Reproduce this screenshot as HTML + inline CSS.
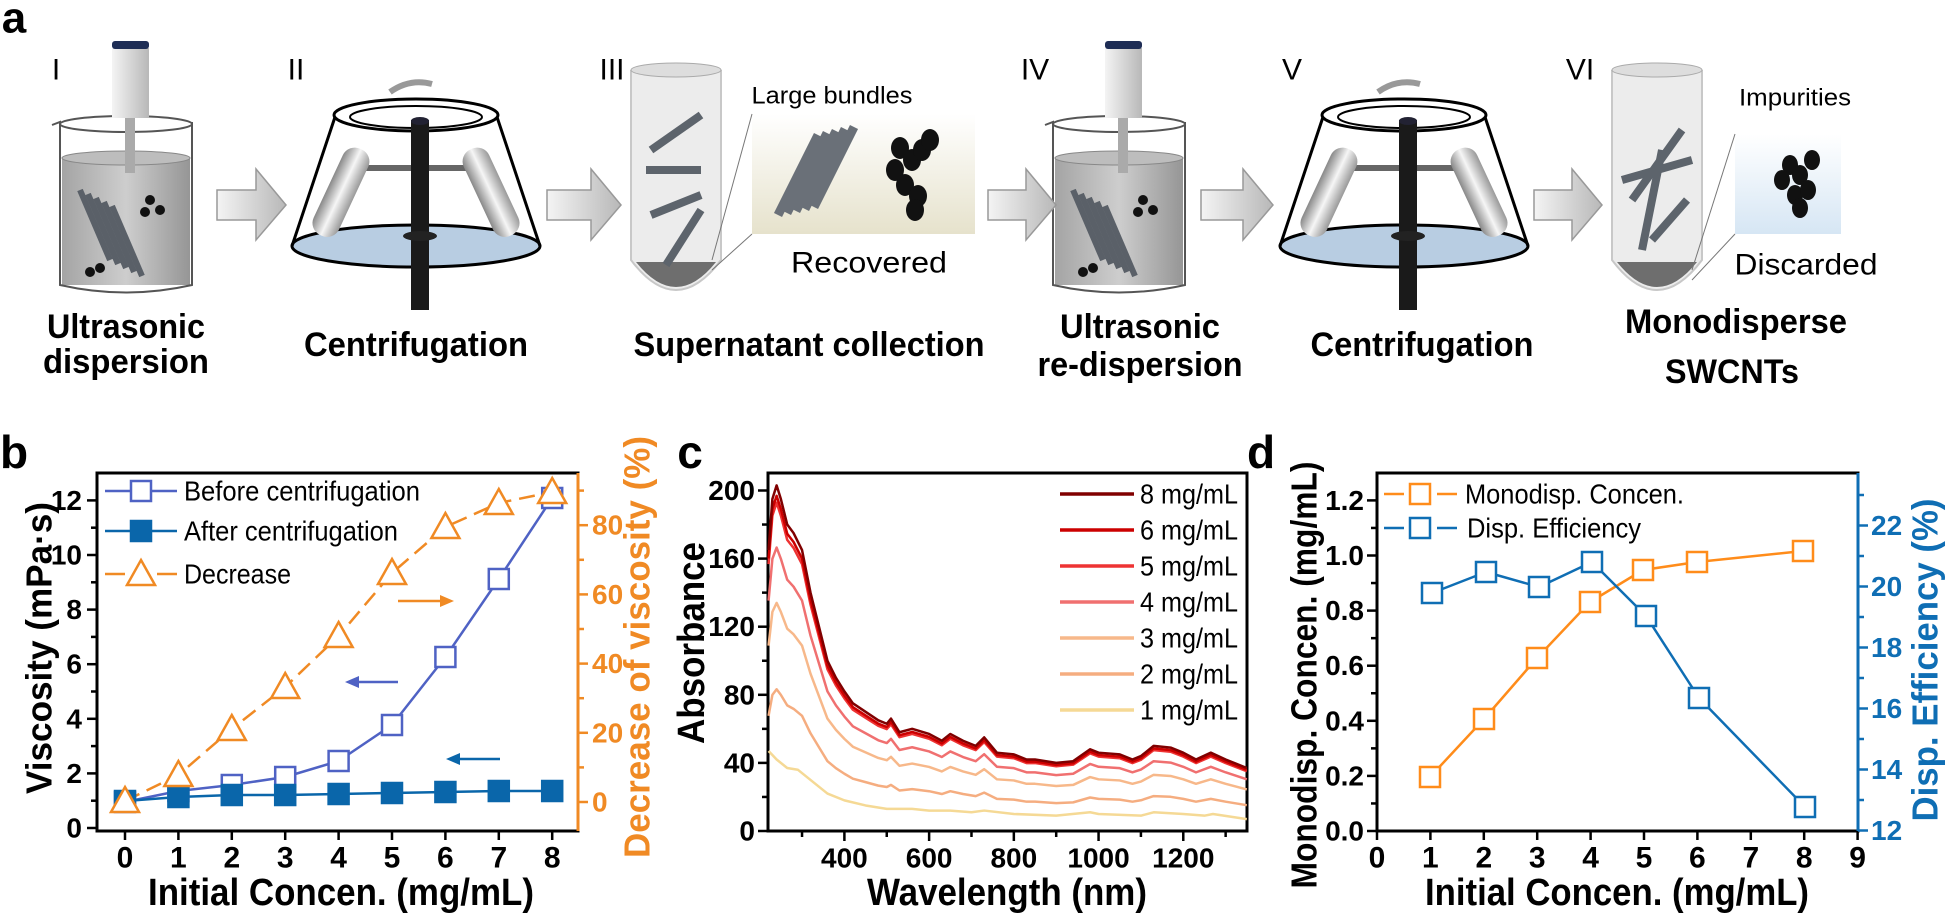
<!DOCTYPE html>
<html><head><meta charset="utf-8"><style>
html,body{margin:0;padding:0;background:#fff;}
svg{display:block;}
text{font-family:"Liberation Sans Narrow","Liberation Sans",sans-serif;}
</style></head><body>
<svg id="s" width="1947" height="916" viewBox="0 0 1947 916" xmlns="http://www.w3.org/2000/svg">
<defs>
<linearGradient id="gl" x1="0" x2="1"><stop offset="0" stop-color="#e8e8e8"/><stop offset="0.5" stop-color="#ffffff"/><stop offset="1" stop-color="#d0d0d0"/></linearGradient>
<linearGradient id="gb" x1="0" x2="1"><stop offset="0" stop-color="#9a9a9a"/><stop offset="0.5" stop-color="#c8c8c8"/><stop offset="1" stop-color="#8a8a8a"/></linearGradient>
<linearGradient id="ga" x1="0" x2="1"><stop offset="0" stop-color="#f4f4f4"/><stop offset="1" stop-color="#b8b8b8"/></linearGradient>
<linearGradient id="gy" x1="0" y1="0" x2="0" y2="1"><stop offset="0" stop-color="#ffffff"/><stop offset="1" stop-color="#e6e2cc"/></linearGradient>
<linearGradient id="gz" x1="0" y1="0" x2="0" y2="1"><stop offset="0" stop-color="#ffffff"/><stop offset="1" stop-color="#d6e6f4"/></linearGradient>
<linearGradient id="gt" x1="0" x2="1"><stop offset="0" stop-color="#888"/><stop offset="0.5" stop-color="#f6f6f6"/><stop offset="1" stop-color="#999"/></linearGradient>
</defs>
<g id="top"></g>
<g id="charts"></g>
</svg>
<script>
const NS="http://www.w3.org/2000/svg";
function el(p,tag,a,txt){const e=document.createElementNS(NS,tag);for(const k in a)e.setAttribute(k,a[k]);if(txt!==undefined)e.textContent=txt;p.appendChild(e);return e;}
const T=document.getElementById('top'),C=document.getElementById('charts');
function tx(p,x,y,s,str,o){o=o||{};const a={x:x,y:y,'font-size':s,'text-anchor':o.anchor||'middle','dominant-baseline':'central',fill:o.fill||'#000'};
 if(o.bold)a['font-weight']='bold'; if(o.len){a.textLength=o.len;a.lengthAdjust='spacingAndGlyphs';}
 if(o.rot){a.transform='rotate(-90 '+x+' '+y+')';}
 if(o.family)a['font-family']=o.family;
 return el(p,'text',a,str);}
tx(T,14,18,44,'a',{bold:true,family:'"Liberation Sans",sans-serif'});
[['I',56],['II',296],['III',612],['IV',1035],['V',1292],['VI',1580]].forEach(r=>tx(T,r[1],70,30,r[0],{}));
function beaker(ox){
 el(T,'rect',{x:ox+62,y:158,width:128,height:127,fill:'url(#gb)',opacity:0.9});
 el(T,'path',{d:`M${ox+52} 125 L${ox+60} 122 L${ox+60} 285 Q${ox+126} 300 ${ox+192} 285 L${ox+192} 122`,fill:'none',stroke:'#555','stroke-width':2});
 el(T,'ellipse',{cx:ox+126,cy:124,rx:66,ry:8,fill:'none',stroke:'#555','stroke-width':2});
 el(T,'ellipse',{cx:ox+126,cy:158,rx:64,ry:7,fill:'#bdbdbd',stroke:'#888'});
 el(T,'rect',{x:ox+112,y:48,width:37,height:70,fill:'url(#ga)'});
 el(T,'rect',{x:ox+112,y:41,width:37,height:8,fill:'#1e2d55',rx:3});
 el(T,'rect',{x:ox+125,y:118,width:10,height:55,fill:'#aaa'});
 for(let i=0;i<5;i++)el(T,'line',{x1:ox+80+i*8,y1:190+i*4,x2:ox+110+i*8,y2:260+i*4,stroke:'#5a6068','stroke-width':6});
 [[150,200],[160,210],[145,212],[90,272],[100,268]].forEach(p=>el(T,'circle',{cx:ox+p[0],cy:p[1],r:5,fill:'#111'}));
}
beaker(0);beaker(993);
function arrow(x1,x2){el(T,'path',{d:`M${x1} 190 L${x2-30} 190 L${x2-30} 169 L${x2} 205 L${x2-30} 240 L${x2-30} 220 L${x1} 220 Z`,fill:'url(#ga)',stroke:'#999','stroke-width':1.5});}
arrow(217,286);arrow(547,621);arrow(988,1056);arrow(1201,1273);arrow(1534,1602);
function centri(ox){
 el(T,'ellipse',{cx:ox+416,cy:246,rx:124,ry:21,fill:'#b8cde2',stroke:'#000','stroke-width':3});
 el(T,'path',{d:`M${ox+292} 246 L${ox+335} 117 M${ox+540} 246 L${ox+497} 117`,stroke:'#000','stroke-width':3,fill:'none'});
 el(T,'ellipse',{cx:ox+416,cy:115,rx:82,ry:16,fill:'none',stroke:'#000','stroke-width':3});
 el(T,'ellipse',{cx:ox+416,cy:117,rx:66,ry:11,fill:'none',stroke:'#000','stroke-width':2});
 el(T,'path',{d:`M${ox+390} 92 Q${ox+410} 78 ${ox+432} 84`,stroke:'#999','stroke-width':6,fill:'none'});
 el(T,'line',{x1:ox+355,y1:168,x2:ox+480,y2:168,stroke:'#666','stroke-width':6});
 el(T,'rect',{x:ox+328,y:145,width:28,height:95,rx:13,fill:'url(#gt)',transform:`rotate(25 ${ox+342} 190)`});
 el(T,'rect',{x:ox+476,y:145,width:28,height:95,rx:13,fill:'url(#gt)',transform:`rotate(-25 ${ox+490} 190)`});
 el(T,'rect',{x:ox+411,y:120,width:18,height:190,fill:'#1a1a1a'});
 el(T,'ellipse',{cx:ox+420,cy:121,rx:9,ry:4,fill:'#223'});
 el(T,'ellipse',{cx:ox+420,cy:236,rx:17,ry:5,fill:'#222'});
}
centri(0);centri(988);
function tube(ox,ext){
 el(T,'path',{d:`M${ox} 70 L${ox} 260 Q${ox+45} 320 ${ox+90} 260 L${ox+90} 70`,fill:'#ececec',stroke:'#c8c8c8','stroke-width':2});
 el(T,'ellipse',{cx:ox+45,cy:70,rx:45,ry:7,fill:'#ddd',stroke:'#aaa'});
 el(T,'path',{d:`M${ox+5} 262 Q${ox+45} 312 ${ox+85} 262 Z`,fill:'#6e6e6e'});
 ext.forEach(l=>el(T,'line',{x1:ox+l[0],y1:l[1],x2:ox+l[2],y2:l[3],stroke:'#5d646c','stroke-width':8}));
}
tube(631,[[20,150,70,115],[15,170,70,170],[20,215,70,195],[35,265,70,210]]);
tube(1612,[[20,200,70,130],[30,250,50,150],[10,180,80,160],[40,240,75,200]]);
el(T,'rect',{x:752,y:114,width:223,height:120,fill:'url(#gy)'});
el(T,'line',{x1:752,y1:114,x2:712,y2:260,stroke:'#777'});el(T,'line',{x1:752,y1:234,x2:712,y2:270,stroke:'#777'});
for(let i=0;i<5;i++)el(T,'line',{x1:778+i*9,y1:215-i*2,x2:818+i*9,y2:135-i*2,stroke:'#6a7078','stroke-width':9});
[[900,148],[912,160],[895,170],[922,150],[905,185],[918,196],[930,140],[915,210]].forEach(p=>el(T,'ellipse',{cx:p[0],cy:p[1],rx:9,ry:11,fill:'#111'}));
el(T,'rect',{x:1735,y:134,width:106,height:100,fill:'url(#gz)'});
el(T,'line',{x1:1735,y1:134,x2:1692,y2:270,stroke:'#777'});el(T,'line',{x1:1735,y1:234,x2:1692,y2:280,stroke:'#777'});
[[1790,165],[1800,175],[1782,180],[1812,160],[1795,195],[1808,190],[1800,208]].forEach(p=>el(T,'ellipse',{cx:p[0],cy:p[1],rx:8,ry:10,fill:'#111'}));
const LS='"Liberation Sans",sans-serif';
tx(T,832,96,24,'Large bundles',{len:161});
tx(T,869,263,30,'Recovered',{len:156});
tx(T,1795,98,24,'Impurities',{len:112});
tx(T,1806,265,30,'Discarded',{len:143});
const cap=(x,y,s,l)=>tx(T,x,y,34,s,{bold:true,len:l,family:LS});
cap(126,327,'Ultrasonic',158);cap(126,362,'dispersion',166);
cap(416,345,'Centrifugation',224);cap(809,345,'Supernatant collection',351);
cap(1140,327,'Ultrasonic',160);cap(1140,365,'re-dispersion',205);
cap(1422,345,'Centrifugation',223);cap(1736,322,'Monodisperse',222);cap(1732,372,'SWCNTs',134);
function frame(x0,y0,x1,y1){el(C,'rect',{x:x0,y:y0,width:x1-x0,height:y1-y0,fill:'none',stroke:'#000','stroke-width':3});}
function sq(x,y,c,fill){el(C,'rect',{x:x-10,y:y-10,width:20,height:20,fill:fill?c:'#fff',stroke:c,'stroke-width':2.5});}
function tri(x,y,c){el(C,'path',{d:`M${x} ${y-14} L${x+14} ${y+11} L${x-14} ${y+11} Z`,fill:'#fff',stroke:c,'stroke-width':2.5});}
function line(pts,c,dash,w){el(C,'polyline',{points:pts.map(p=>p.join(',')).join(' '),fill:'none',stroke:c,'stroke-width':w||2.5,'stroke-dasharray':dash||'none','stroke-linejoin':'round'});}
function tick(x1,y1,x2,y2,c){el(C,'line',{x1,y1,x2,y2,stroke:c||'#000','stroke-width':2.5});}
function arr(x1,x2,y,c){el(C,'line',{x1:x1,y1:y,x2:x2+(x2>x1?-10:10),y2:y,stroke:c,'stroke-width':2.5});const d=x2>x1?-14:14;el(C,'path',{d:`M${x2} ${y} L${x2+d} ${y-6} L${x2+d} ${y+6} Z`,fill:c});}
tx(C,14,452,46,'b',{bold:true,family:LS});
frame(97,473,578,831);
const bx=i=>125+i*53.4, by=v=>828-v*27.3, byr=v=>802-v*3.46;
for(let i=0;i<=8;i++){tick(bx(i),831,bx(i),840);tx(C,bx(i),858,30,String(i),{bold:true});}
for(let v=0;v<=12;v+=1){const y=by(v);tick(97,y,v%2?91:87,y);if(v%2==0)tx(C,82,y,28,String(v),{bold:true,anchor:'end'});}
el(C,'line',{x1:578,y1:473,x2:578,y2:831,stroke:'#f08a24','stroke-width':3});
for(let v=0;v<=90;v+=10){const y=byr(v);tick(578,y,v%20?584:588,y,'#f08a24');if(v%20==0)tx(C,592,y,28,String(v),{bold:true,anchor:'start',fill:'#f08a24'});}
tx(C,39,648,36,'Viscosity (mPa·s)',{bold:true,rot:true,len:292,family:LS});
tx(C,637,647,36,'Decrease of viscosity (%)',{bold:true,rot:true,len:422,fill:'#f08a24',family:LS});
tx(C,341,893,38,'Initial Concen. (mg/mL)',{bold:true,len:386,family:LS});
const dec=[801,775,729,687,636,573,527,503,492],bef=[802,791,785,777,761,725,657,579,498],aft=[801,797,795,795,794,793,792,791,791];
const OR='#f08a24',BL='#4f62c4',DB='#0a66aa';
line(dec.map((y,i)=>[bx(i),y]),OR,'16 8');
line(bef.map((y,i)=>[bx(i),y]),BL);
line(aft.map((y,i)=>[bx(i),y]),DB);
bef.forEach((y,i)=>sq(bx(i),y,BL,false));
aft.forEach((y,i)=>sq(bx(i),y,DB,true));
dec.forEach((y,i)=>tri(bx(i),y,OR));
line([[105,491],[177,491]],BL);sq(141,491,BL,false);
line([[105,531],[177,531]],DB);sq(141,531,DB,true);
line([[105,574],[125,574]],OR);line([[157,574],[177,574]],OR);tri(141,574,OR);
tx(C,184,491,28,'Before centrifugation',{anchor:'start',len:236});
tx(C,184,531,28,'After centrifugation',{anchor:'start',len:214});
tx(C,184,574,28,'Decrease',{anchor:'start',len:107});
arr(398,454,601,OR);arr(398,345,682,BL);arr(500,446,759,DB);
tx(C,690,452,46,'c',{bold:true,family:LS});
frame(768,473,1247,831);
const cx=w=>844.4+(w-400)*0.4236, cy=a=>831-a*68.1/40;
for(let w=300;w<=1300;w+=100){const x=cx(w);tick(x,831,x,w%200?837:841);if(w%200==0&&w>=400)tx(C,x,858,28,String(w),{bold:true});}
for(let a=0;a<=200;a+=20){const y=cy(a);tick(768,y,a%40?762:758,y);if(a%40==0)tx(C,755,y,28,String(a),{bold:true,anchor:'end'});}
tx(C,692,643,38,'Absorbance',{bold:true,rot:true,len:202,family:LS});
tx(C,1007,893,38,'Wavelength (nm)',{bold:true,len:280,family:LS});
const base=[[221,165],[230,195],[240,203],[250,195],[265,180],[280,175],[300,165],[320,140],[340,120],[360,100],[380,90],[400,82],[420,75],[450,70],[480,65],[500,63],[510,66],[530,58],[560,60],[600,57],[630,53],[650,57],[680,53],[710,50],[730,55],[760,46],[800,45],[830,42],[850,42],[900,40],[940,41],[980,48],[1000,46],[1050,45],[1080,42],[1100,44],[1130,50],[1170,49],[1200,46],[1230,42],[1265,46],[1300,42],[1350,37]];
const one=[[221,47],[240,42],[265,37],[290,36],[320,30],[360,22],[400,18],[450,15],[500,13],[560,13],[600,12],[650,12],[700,11],[730,12],[800,10],[900,9],[980,11],[1000,10],[1100,9],[1130,11],[1200,10],[1250,9],[1270,10],[1350,7]];
const series=[['1 mg/mL','#f5d995',null],['2 mg/mL','#f5ad80',0.41],['3 mg/mL','#f7b88a',0.66],['4 mg/mL','#f07070',0.82],['5 mg/mL','#ee3333',0.95],['6 mg/mL','#cc0000',0.97],['8 mg/mL','#800000',1]];
series.forEach(s=>{const pts=s[2]===null?one:base.map(p=>[p[0],p[1]*s[2]]);line(pts.map(p=>[cx(p[0]),cy(p[1])]),s[1],null,2.5);});
const legc=series.slice().reverse();
legc.forEach((s,i)=>{const y=494+i*36;line([[1060,y],[1134,y]],s[1],null,3.5);tx(C,1140,y,28,s[0],{anchor:'start',len:98});});
tx(C,1261,452,46,'d',{bold:true,family:LS});
const BLD='#0f6eb4',ORD='#ff8c1a';
frame(1377,473,1858,831);
el(C,'line',{x1:1858,y1:473,x2:1858,y2:831,stroke:BLD,'stroke-width':3});
const dx=i=>1377+i*53.4;
for(let i=0;i<=9;i++){tick(dx(i),831,dx(i),840);tx(C,dx(i),858,30,String(i),{bold:true});}
for(let k=0;k<=13;k++){const y=831-k*27.55;if(y<475)break;tick(1377,y,k%2?1371:1367,y);if(k%2==0)tx(C,1364,y,28,(k/10).toFixed(1),{bold:true,anchor:'end'});}
for(let v=12;v<=23;v++){const y=830.5-(v-12)*30.5;tick(1858,y,v%2?1864:1868,y,BLD);if(v%2==0)tx(C,1871,y,28,String(v),{bold:true,anchor:'start',fill:BLD});}
tx(C,1304,675,36,'Monodisp. Concen. (mg/mL)',{bold:true,rot:true,len:427,family:LS});
tx(C,1925,660,36,'Disp. Efficiency (%)',{bold:true,rot:true,len:323,fill:BLD,family:LS});
tx(C,1617,893,38,'Initial Concen. (mg/mL)',{bold:true,len:384,family:LS});
const dO=[[1430,777],[1484,719],[1537,658],[1590,602],[1643,570],[1697,562],[1803,551]];
const dB=[[1432,593],[1486,572],[1539,587],[1592,562],[1646,616],[1699,698],[1805,807]];
line(dO,ORD);line(dB,BLD);
dO.forEach(p=>sq(p[0],p[1],ORD,false));dB.forEach(p=>sq(p[0],p[1],BLD,false));
line([[1384,494],[1404,494]],ORD);line([[1437,494],[1457,494]],ORD);sq(1420,494,ORD,false);
line([[1384,528],[1404,528]],BLD);line([[1437,528],[1457,528]],BLD);sq(1420,528,BLD,false);
tx(C,1465,494,28,'Monodisp. Concen.',{anchor:'start',len:219});
tx(C,1467,528,28,'Disp. Efficiency',{anchor:'start',len:174});
</script>
</body></html>
